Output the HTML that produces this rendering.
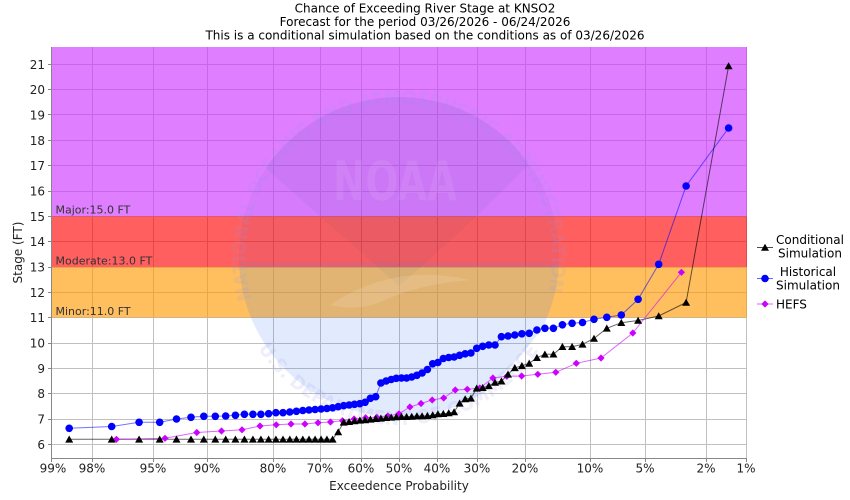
<!DOCTYPE html>
<html>
<head>
<meta charset="utf-8">
<style>
html,body{margin:0;padding:0;background:#fff;}
svg{display:block;font-family:"DejaVu Sans","Liberation Sans",sans-serif;}
</style>
</head>
<body>
<svg width="850" height="500" viewBox="0 0 850 500" xmlns="http://www.w3.org/2000/svg">
<defs>
  <circle id="c" r="3.8" fill="#0000ff"/>
  <path id="t" d="M0,-3.8 L4,3.3 L-4,3.3 Z" fill="#000"/>
  <path id="d" d="M0,-3.6 L3.6,0 L0,3.6 L-3.6,0 Z" fill="#cc00ff"/>
  <clipPath id="disk"><circle cx="399" cy="257" r="160"/></clipPath>
  <path id="arcTop" d="M251.9,299.2 A153,153 0 1,1 546.1,299.2"/>
  <path id="arcBot" d="M258.1,348.5 A168,168 0 0,0 539.9,348.5"/>
</defs>

<!-- Title -->
<g font-size="12" fill="#000" text-anchor="middle">
  <text x="425" y="12.5">Chance of Exceeding River Stage at KNSO2</text>
  <text x="425" y="26">Forecast for the period 03/26/2026 - 06/24/2026</text>
  <text x="425" y="39.5">This is a conditional simulation based on the conditions as of 03/26/2026</text>
</g>

<!-- grid -->
<g stroke="#c0c0c0" stroke-width="1">
  <line x1="51" y1="444.5" x2="747" y2="444.5"/>
  <line x1="51" y1="419.5" x2="747" y2="419.5"/>
  <line x1="51" y1="393.5" x2="747" y2="393.5"/>
  <line x1="51" y1="368.5" x2="747" y2="368.5"/>
  <line x1="51" y1="343.5" x2="747" y2="343.5"/>
  <line x1="51" y1="317.5" x2="747" y2="317.5"/>
  <line x1="51" y1="292.5" x2="747" y2="292.5"/>
  <line x1="51" y1="267.5" x2="747" y2="267.5"/>
  <line x1="51" y1="241.5" x2="747" y2="241.5"/>
  <line x1="51" y1="216.5" x2="747" y2="216.5"/>
  <line x1="51" y1="191.5" x2="747" y2="191.5"/>
  <line x1="51" y1="165.5" x2="747" y2="165.5"/>
  <line x1="51" y1="140.5" x2="747" y2="140.5"/>
  <line x1="51" y1="114.5" x2="747" y2="114.5"/>
  <line x1="51" y1="89.5" x2="747" y2="89.5"/>
  <line x1="51" y1="64.5" x2="747" y2="64.5"/>
  <line x1="92.5" y1="47" x2="92.5" y2="458"/>
  <line x1="153.5" y1="47" x2="153.5" y2="458"/>
  <line x1="207.5" y1="47" x2="207.5" y2="458"/>
  <line x1="273.5" y1="47" x2="273.5" y2="458"/>
  <line x1="320.5" y1="47" x2="320.5" y2="458"/>
  <line x1="361.5" y1="47" x2="361.5" y2="458"/>
  <line x1="399.5" y1="47" x2="399.5" y2="458"/>
  <line x1="437.5" y1="47" x2="437.5" y2="458"/>
  <line x1="477.5" y1="47" x2="477.5" y2="458"/>
  <line x1="525.5" y1="47" x2="525.5" y2="458"/>
  <line x1="590.5" y1="47" x2="590.5" y2="458"/>
  <line x1="645.5" y1="47" x2="645.5" y2="458"/>
  <line x1="706.5" y1="47" x2="706.5" y2="458"/>
  <line x1="746.5" y1="47" x2="746.5" y2="458"/>
</g>

<!-- flood bands -->
<rect x="51" y="47" width="696" height="169.3" fill="#cc33ff" fill-opacity="0.627"/>
<rect x="51" y="216.3" width="696" height="50.7" fill="#ff0000" fill-opacity="0.627"/>
<rect x="51" y="267" width="696" height="50.5" fill="#ff9900" fill-opacity="0.627"/>

<!-- NOAA watermark -->
<g clip-path="url(#disk)">
  <rect x="230" y="90" width="340" height="172" fill="rgb(40,60,180)" fill-opacity="0.05"/>
  <path d="M262,165 Q320,90 399,95 Q480,90 528,165 Q470,225 399,286 Q330,225 262,165 Z" fill="rgb(20,40,140)" fill-opacity="0.045"/>
  <path d="M200,262 L600,262 L560,300 Q520,370 440,430 L200,430 Z" fill="rgb(48,112,240)" fill-opacity="0.14"/>
  <path d="M330,305 Q395,262 470,280 Q420,284 385,300 Q360,312 330,305 Z" fill="#fff" fill-opacity="0.12"/>
</g>
<text x="395" y="200" font-size="54" font-weight="bold" fill="#fff" fill-opacity="0.08" text-anchor="middle" textLength="124" lengthAdjust="spacingAndGlyphs">NOAA</text>
<g font-size="19" font-weight="bold" fill="rgb(150,150,235)" fill-opacity="0.16">
  <text><textPath href="#arcTop" textLength="558" lengthAdjust="spacingAndGlyphs">NATIONAL OCEANIC AND ATMOSPHERIC ADMINISTRATION</textPath></text>
  <text><textPath href="#arcBot" textLength="332" lengthAdjust="spacingAndGlyphs">U.S. DEPARTMENT OF COMMERCE</textPath></text>
</g>

<!-- band labels -->
<g font-size="11" fill="#333">
  <text x="55.5" y="213.5">Major:15.0 FT</text>
  <text x="55.5" y="264.5">Moderate:13.0 FT</text>
  <text x="55.5" y="315">Minor:11.0 FT</text>
</g>

<!-- axes -->
<g stroke="#888" stroke-width="1">
  <line x1="51.5" y1="47" x2="51.5" y2="458.5"/>
  <line x1="51" y1="458.5" x2="747" y2="458.5"/>
  <line x1="48" y1="444.5" x2="51" y2="444.5"/>
  <line x1="48" y1="419.5" x2="51" y2="419.5"/>
  <line x1="48" y1="393.5" x2="51" y2="393.5"/>
  <line x1="48" y1="368.5" x2="51" y2="368.5"/>
  <line x1="48" y1="343.5" x2="51" y2="343.5"/>
  <line x1="48" y1="317.5" x2="51" y2="317.5"/>
  <line x1="48" y1="292.5" x2="51" y2="292.5"/>
  <line x1="48" y1="267.5" x2="51" y2="267.5"/>
  <line x1="48" y1="241.5" x2="51" y2="241.5"/>
  <line x1="48" y1="216.5" x2="51" y2="216.5"/>
  <line x1="48" y1="191.5" x2="51" y2="191.5"/>
  <line x1="48" y1="165.5" x2="51" y2="165.5"/>
  <line x1="48" y1="140.5" x2="51" y2="140.5"/>
  <line x1="48" y1="114.5" x2="51" y2="114.5"/>
  <line x1="48" y1="89.5" x2="51" y2="89.5"/>
  <line x1="48" y1="64.5" x2="51" y2="64.5"/>
  <line x1="51.5" y1="459" x2="51.5" y2="462"/>
  <line x1="92.5" y1="459" x2="92.5" y2="462"/>
  <line x1="153.5" y1="459" x2="153.5" y2="462"/>
  <line x1="207.5" y1="459" x2="207.5" y2="462"/>
  <line x1="273.5" y1="459" x2="273.5" y2="462"/>
  <line x1="320.5" y1="459" x2="320.5" y2="462"/>
  <line x1="361.5" y1="459" x2="361.5" y2="462"/>
  <line x1="399.5" y1="459" x2="399.5" y2="462"/>
  <line x1="437.5" y1="459" x2="437.5" y2="462"/>
  <line x1="477.5" y1="459" x2="477.5" y2="462"/>
  <line x1="525.5" y1="459" x2="525.5" y2="462"/>
  <line x1="590.5" y1="459" x2="590.5" y2="462"/>
  <line x1="645.5" y1="459" x2="645.5" y2="462"/>
  <line x1="706.5" y1="459" x2="706.5" y2="462"/>
  <line x1="746.5" y1="459" x2="746.5" y2="462"/>
</g>

<!-- y tick labels -->
<g font-size="12" fill="#222" text-anchor="end">
  <text x="45" y="449">6</text>
  <text x="45" y="423.5">7</text>
  <text x="45" y="398">8</text>
  <text x="45" y="373">9</text>
  <text x="45" y="347.5">10</text>
  <text x="45" y="322">11</text>
  <text x="45" y="297">12</text>
  <text x="45" y="271.5">13</text>
  <text x="45" y="246">14</text>
  <text x="45" y="221">15</text>
  <text x="45" y="195.5">16</text>
  <text x="45" y="170">17</text>
  <text x="45" y="145">18</text>
  <text x="45" y="119.5">19</text>
  <text x="45" y="94">20</text>
  <text x="45" y="69">21</text>
</g>

<!-- x tick labels -->
<g font-size="12" fill="#222" text-anchor="middle">
  <text x="53" y="472.5">99%</text>
  <text x="92" y="472.5">98%</text>
  <text x="153" y="472.5">95%</text>
  <text x="207" y="472.5">90%</text>
  <text x="273" y="472.5">80%</text>
  <text x="320" y="472.5">70%</text>
  <text x="361" y="472.5">60%</text>
  <text x="399" y="472.5">50%</text>
  <text x="437" y="472.5">40%</text>
  <text x="477" y="472.5">30%</text>
  <text x="525" y="472.5">20%</text>
  <text x="590" y="472.5">10%</text>
  <text x="645" y="472.5">5%</text>
  <text x="706" y="472.5">2%</text>
  <text x="746" y="472.5">1%</text>
</g>

<!-- axis labels -->
<text x="399" y="490" font-size="12" fill="#222" text-anchor="middle">Exceedence Probability</text>
<text transform="translate(22,252.5) rotate(-90)" font-size="12" fill="#222" text-anchor="middle">Stage (FT)</text>

<!-- series lines -->
<polyline fill="none" stroke="#0000ff" stroke-opacity="0.55" stroke-width="1" points="69.2,428.3 111.7,426.5 139.1,422.3 159.7,422.3 176.5,419 191,417.3 203.8,416.3 215.3,416.3 225.7,416 235.4,415.3 244.4,414.3 252.9,414.3 260.9,414.3 268.6,413.7 275.9,412.7 283,412.7 289.8,412 296.4,411.3 302.8,410.5 309,410 315.1,409.5 321.1,409 326.9,408.5 332.6,407.8 338.2,406.7 343.7,405.7 349.1,405 354.5,404.3 359.9,403.7 365.1,402.3 370.4,398.3 375.7,396.7 380.9,383 386.1,381 391.2,379.5 396.3,378.3 401.5,378 406.6,378 411.7,377 416.9,375.3 422.1,373 427.4,369.5 432.7,363.8 437.9,362.5 443.3,358.5 448.7,357.5 454.1,357 459.6,355.3 465.2,353.8 470.9,353 476.7,348.3 482.7,346.3 488.8,345 495,345 501.4,336.7 508,336 514.8,335 521.9,333.8 529.2,333.3 536.9,330 544.9,328.3 553.4,328.3 562.4,324.8 572.1,323.3 582.5,322.5 594,319.3 606.8,317.3 621.3,315 638.1,299.3 658.7,264.3 686.1,186 728.6,128"/>
<polyline fill="none" stroke="#000" stroke-opacity="0.6" stroke-width="1" points="69.2,439.3 111.7,439.3 139.1,439.3 159.7,439.3 176.5,439.3 191,439.3 203.8,439.3 215.3,439.3 225.7,439.3 235.4,439.3 244.4,439.3 252.9,439.3 260.9,439.3 268.6,439.3 275.9,439.3 283,439.3 289.8,439.3 296.4,439.3 302.8,439.3 309,439.3 315.1,439.3 321.1,439.3 326.9,439.3 332.6,439.3 338.2,432 343.7,422.3 349.1,421.7 354.5,421 359.9,420.3 365.1,420 370.4,419.3 375.7,418.7 380.9,418.3 386.1,417.7 391.2,417.3 396.3,417 401.5,416.7 406.6,416.7 411.7,416.5 416.9,416 422.1,416 427.4,415.7 432.7,415 437.9,414 443.3,413.7 448.7,413 454.1,412 459.6,403.3 465.2,399 470.9,398.3 476.7,388.3 482.7,387.7 488.8,385.8 495,382.5 501.4,381.2 508,374.3 514.8,367.8 521.9,365.8 529.2,363.4 536.9,357.7 544.9,354.3 553.4,354.2 562.4,346.7 572.1,346.7 582.5,344.3 594,338.5 606.8,328.3 621.3,322.7 638.1,320.5 658.7,316 686.1,302.5 728.6,66"/>
<polyline fill="none" stroke="#cc00ff" stroke-opacity="0.6" stroke-width="1" points="116.4,439.3 165,438.3 196.8,432.5 221.5,431 242,429.8 260,426 276.2,424.8 291,424 304.9,424 318,422.8 330.5,422 342.5,420.7 354.1,419 365.6,417.7 376.8,417.3 387.9,416 398.9,413.8 409.9,407 421,403.5 432.2,400 443.7,398 455.3,390 467.3,389.3 479.8,388 492.9,378 506.8,376.3 521.6,376 537.8,374.3 555.8,372.3 576.3,363.3 601,358 632.8,333 681.4,272.3"/>

<!-- HEFS markers -->
<g>
<use href="#d" x="116.4" y="439.3"/><use href="#d" x="165" y="438.3"/><use href="#d" x="196.8" y="432.5"/><use href="#d" x="221.5" y="431"/><use href="#d" x="242" y="429.8"/><use href="#d" x="260" y="426"/><use href="#d" x="276.2" y="424.8"/><use href="#d" x="291" y="424"/><use href="#d" x="304.9" y="424"/><use href="#d" x="318" y="422.8"/><use href="#d" x="330.5" y="422"/><use href="#d" x="342.5" y="420.7"/><use href="#d" x="354.1" y="419"/><use href="#d" x="365.6" y="417.7"/><use href="#d" x="376.8" y="417.3"/><use href="#d" x="387.9" y="416"/><use href="#d" x="398.9" y="413.8"/><use href="#d" x="409.9" y="407"/><use href="#d" x="421" y="403.5"/><use href="#d" x="432.2" y="400"/><use href="#d" x="443.7" y="398"/><use href="#d" x="455.3" y="390"/><use href="#d" x="467.3" y="389.3"/><use href="#d" x="479.8" y="388"/><use href="#d" x="492.9" y="378"/><use href="#d" x="506.8" y="376.3"/><use href="#d" x="521.6" y="376"/><use href="#d" x="537.8" y="374.3"/><use href="#d" x="555.8" y="372.3"/><use href="#d" x="576.3" y="363.3"/><use href="#d" x="601" y="358"/><use href="#d" x="632.8" y="333"/><use href="#d" x="681.4" y="272.3"/>
</g>

<!-- Historical markers -->
<g>
<use href="#c" x="69.2" y="428.3"/><use href="#c" x="111.7" y="426.5"/><use href="#c" x="139.1" y="422.3"/><use href="#c" x="159.7" y="422.3"/><use href="#c" x="176.5" y="419"/><use href="#c" x="191" y="417.3"/><use href="#c" x="203.8" y="416.3"/><use href="#c" x="215.3" y="416.3"/><use href="#c" x="225.7" y="416"/><use href="#c" x="235.4" y="415.3"/><use href="#c" x="244.4" y="414.3"/><use href="#c" x="252.9" y="414.3"/><use href="#c" x="260.9" y="414.3"/><use href="#c" x="268.6" y="413.7"/><use href="#c" x="275.9" y="412.7"/><use href="#c" x="283" y="412.7"/><use href="#c" x="289.8" y="412"/><use href="#c" x="296.4" y="411.3"/><use href="#c" x="302.8" y="410.5"/><use href="#c" x="309" y="410"/><use href="#c" x="315.1" y="409.5"/><use href="#c" x="321.1" y="409"/><use href="#c" x="326.9" y="408.5"/><use href="#c" x="332.6" y="407.8"/><use href="#c" x="338.2" y="406.7"/><use href="#c" x="343.7" y="405.7"/><use href="#c" x="349.1" y="405"/><use href="#c" x="354.5" y="404.3"/><use href="#c" x="359.9" y="403.7"/><use href="#c" x="365.1" y="402.3"/><use href="#c" x="370.4" y="398.3"/><use href="#c" x="375.7" y="396.7"/><use href="#c" x="380.9" y="383"/><use href="#c" x="386.1" y="381"/><use href="#c" x="391.2" y="379.5"/><use href="#c" x="396.3" y="378.3"/><use href="#c" x="401.5" y="378"/><use href="#c" x="406.6" y="378"/><use href="#c" x="411.7" y="377"/><use href="#c" x="416.9" y="375.3"/><use href="#c" x="422.1" y="373"/><use href="#c" x="427.4" y="369.5"/><use href="#c" x="432.7" y="363.8"/><use href="#c" x="437.9" y="362.5"/><use href="#c" x="443.3" y="358.5"/><use href="#c" x="448.7" y="357.5"/><use href="#c" x="454.1" y="357"/><use href="#c" x="459.6" y="355.3"/><use href="#c" x="465.2" y="353.8"/><use href="#c" x="470.9" y="353"/><use href="#c" x="476.7" y="348.3"/><use href="#c" x="482.7" y="346.3"/><use href="#c" x="488.8" y="345"/><use href="#c" x="495" y="345"/><use href="#c" x="501.4" y="336.7"/><use href="#c" x="508" y="336"/><use href="#c" x="514.8" y="335"/><use href="#c" x="521.9" y="333.8"/><use href="#c" x="529.2" y="333.3"/><use href="#c" x="536.9" y="330"/><use href="#c" x="544.9" y="328.3"/><use href="#c" x="553.4" y="328.3"/><use href="#c" x="562.4" y="324.8"/><use href="#c" x="572.1" y="323.3"/><use href="#c" x="582.5" y="322.5"/><use href="#c" x="594" y="319.3"/><use href="#c" x="606.8" y="317.3"/><use href="#c" x="621.3" y="315"/><use href="#c" x="638.1" y="299.3"/><use href="#c" x="658.7" y="264.3"/><use href="#c" x="686.1" y="186"/><use href="#c" x="728.6" y="128"/>
</g>

<!-- Conditional markers -->
<g>
<use href="#t" x="69.2" y="439.3"/><use href="#t" x="111.7" y="439.3"/><use href="#t" x="139.1" y="439.3"/><use href="#t" x="159.7" y="439.3"/><use href="#t" x="176.5" y="439.3"/><use href="#t" x="191" y="439.3"/><use href="#t" x="203.8" y="439.3"/><use href="#t" x="215.3" y="439.3"/><use href="#t" x="225.7" y="439.3"/><use href="#t" x="235.4" y="439.3"/><use href="#t" x="244.4" y="439.3"/><use href="#t" x="252.9" y="439.3"/><use href="#t" x="260.9" y="439.3"/><use href="#t" x="268.6" y="439.3"/><use href="#t" x="275.9" y="439.3"/><use href="#t" x="283" y="439.3"/><use href="#t" x="289.8" y="439.3"/><use href="#t" x="296.4" y="439.3"/><use href="#t" x="302.8" y="439.3"/><use href="#t" x="309" y="439.3"/><use href="#t" x="315.1" y="439.3"/><use href="#t" x="321.1" y="439.3"/><use href="#t" x="326.9" y="439.3"/><use href="#t" x="332.6" y="439.3"/><use href="#t" x="338.2" y="432"/><use href="#t" x="343.7" y="422.3"/><use href="#t" x="349.1" y="421.7"/><use href="#t" x="354.5" y="421"/><use href="#t" x="359.9" y="420.3"/><use href="#t" x="365.1" y="420"/><use href="#t" x="370.4" y="419.3"/><use href="#t" x="375.7" y="418.7"/><use href="#t" x="380.9" y="418.3"/><use href="#t" x="386.1" y="417.7"/><use href="#t" x="391.2" y="417.3"/><use href="#t" x="396.3" y="417"/><use href="#t" x="401.5" y="416.7"/><use href="#t" x="406.6" y="416.7"/><use href="#t" x="411.7" y="416.5"/><use href="#t" x="416.9" y="416"/><use href="#t" x="422.1" y="416"/><use href="#t" x="427.4" y="415.7"/><use href="#t" x="432.7" y="415"/><use href="#t" x="437.9" y="414"/><use href="#t" x="443.3" y="413.7"/><use href="#t" x="448.7" y="413"/><use href="#t" x="454.1" y="412"/><use href="#t" x="459.6" y="403.3"/><use href="#t" x="465.2" y="399"/><use href="#t" x="470.9" y="398.3"/><use href="#t" x="476.7" y="388.3"/><use href="#t" x="482.7" y="387.7"/><use href="#t" x="488.8" y="385.8"/><use href="#t" x="495" y="382.5"/><use href="#t" x="501.4" y="381.2"/><use href="#t" x="508" y="374.3"/><use href="#t" x="514.8" y="367.8"/><use href="#t" x="521.9" y="365.8"/><use href="#t" x="529.2" y="363.4"/><use href="#t" x="536.9" y="357.7"/><use href="#t" x="544.9" y="354.3"/><use href="#t" x="553.4" y="354.2"/><use href="#t" x="562.4" y="346.7"/><use href="#t" x="572.1" y="346.7"/><use href="#t" x="582.5" y="344.3"/><use href="#t" x="594" y="338.5"/><use href="#t" x="606.8" y="328.3"/><use href="#t" x="621.3" y="322.7"/><use href="#t" x="638.1" y="320.5"/><use href="#t" x="658.7" y="316"/><use href="#t" x="686.1" y="302.5"/><use href="#t" x="728.6" y="66"/>
</g>

<!-- Legend -->
<g>
  <line x1="757" y1="247.5" x2="773" y2="247.5" stroke="#000" stroke-opacity="0.7"/>
  <use href="#t" x="765" y="247.5"/>
  <line x1="757" y1="278.5" x2="773" y2="278.5" stroke="#0000ff" stroke-opacity="0.6"/>
  <use href="#c" x="765" y="278.5"/>
  <line x1="757" y1="304" x2="773" y2="304" stroke="#cc00ff" stroke-opacity="0.6"/>
  <use href="#d" x="765" y="304"/>
</g>
<g font-size="12" fill="#000">
  <text x="810" y="244" text-anchor="middle">Conditional</text>
  <text x="810" y="257.5" text-anchor="middle">Simulation</text>
  <text x="808" y="276" text-anchor="middle">Historical</text>
  <text x="808" y="289.5" text-anchor="middle">Simulation</text>
  <text x="776" y="308.5">HEFS</text>
</g>
</svg>
</body>
</html>
